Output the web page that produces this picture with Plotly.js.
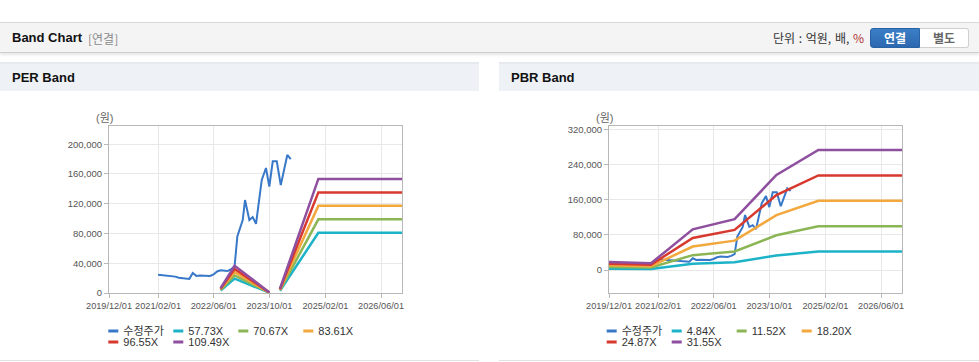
<!DOCTYPE html>
<html><head><meta charset="utf-8">
<script src="https://cdn.plot.ly/plotly-3.0.1.min.js"></script>
<style>
body{margin:0;width:979px;height:362px;background:#fff;overflow:hidden;position:relative;font-family:"Liberation Sans","Noto Sans CJK KR",sans-serif}
.topbar{position:absolute;left:0;top:22px;width:979px;height:29px;background:#f4f4f4;border-top:1px solid #d9d9d9;border-bottom:1px solid #cdcdcd;box-shadow:0 2px 3px rgba(0,0,0,0.10)}
.ttl{position:absolute;left:12px;top:7px;font-size:13px;font-weight:bold;color:#111;line-height:16px}
.sub{position:absolute;left:88px;top:8px;font-size:12px;color:#8a8a8a;line-height:16px;font-family:"Noto Sans CJK KR",sans-serif}
.unit{position:absolute;left:773px;top:7px;font-size:12px;color:#333;line-height:16px;font-family:"Noto Sans CJK KR",sans-serif;word-spacing:1px}
.unit span{color:#b03333}
.btn{position:absolute;top:5px;height:18px;width:48px;font-size:12px;font-weight:bold;text-align:center;line-height:18px;font-family:"Noto Sans CJK KR",sans-serif}
.b1{left:870px;background:linear-gradient(#3b7fc6,#2c68b0);color:#fff;border:1px solid #2a62a6;border-radius:3px 0 0 3px;width:48px}
.b2{left:920px;background:#fff;color:#666;border:1px solid #cfcfcf;border-left:none;border-radius:0 3px 3px 0;width:48px}
.ph{position:absolute;top:62px;height:27px;background:#eef1f6;border-top:2px solid #e6e9ee}
.ph div{position:absolute;left:12px;top:6px;font-size:13px;font-weight:bold;color:#111;line-height:16px}
.chart{position:absolute;top:91px;height:269px}
.bl{position:absolute;top:360px;height:1px;background:#e2e2e2}
</style></head>
<body>
<div class="topbar">
  <div class="ttl">Band Chart</div>
  <div class="sub">[연결]</div>
  <div class="unit">단위 : 억원, 배, <span>%</span></div>
  <div class="btn b1">연결</div>
  <div class="btn b2">별도</div>
</div>
<div class="ph" style="left:0;width:479px"><div>PER Band</div></div>
<div class="ph" style="left:499px;width:480px"><div>PBR Band</div></div>
<div id="per" class="chart" style="left:0;width:479px"></div>
<div id="pbr" class="chart" style="left:499px;width:480px"></div>
<div class="bl" style="left:0;width:479px"></div>
<div class="bl" style="left:499px;width:480px"></div>
<script>
// ---- data ----
const priceName = '수정주가';
const priceDates = ['2021-02-01','2021-03-01','2021-04-01','2021-05-01','2021-06-01','2021-07-01','2021-08-01','2021-09-01','2021-10-01','2021-11-01','2021-12-01','2022-01-01','2022-02-01','2022-03-01','2022-04-01','2022-05-01','2022-06-01','2022-07-01','2022-08-01','2022-09-01','2022-10-01','2022-11-01','2022-12-01','2022-12-25','2023-01-17','2023-02-10','2023-03-02','2023-04-09','2023-05-08','2023-06-06','2023-07-26','2023-09-01','2023-09-30','2023-10-30','2023-12-04','2024-01-08','2024-03-05','2024-04-04'];
const priceValues = [24500,24000,23500,23300,23000,22000,20500,19800,19200,19000,26800,23000,23500,23500,23000,23000,25000,29000,30500,30000,29500,32000,36000,76000,87000,98000,125000,98000,102000,93000,152000,168000,143000,177000,177000,145000,185600,180000];

const perNames = ['57.73X','70.67X','83.61X','96.55X','109.49X'];
const perDates = ['2022-08-01','2022-12-01','2023-10-01','2023-11-15','2024-01-01','2024-12-01','2026-12-01'];
const per5773  = [3464, 19282, 404, null, 3060, 80880, 80880];
const per7067  = [4240, 23604, 495, null, 3746, 99009, 99009];
const per8361  = [5017, 27926, 585, null, 4431, 117138, 117138];
const per9655  = [5793, 32248, 676, null, 5117, 135267, 135267];
const per10949 = [6569, 36570, 766, null, 5803, 153396, 153396];

const pbrNames = ['4.84X','11.52X','18.20X','24.87X','31.55X'];
const pbrDates = ['2019-12-01','2020-12-01','2021-12-01','2022-12-01','2023-12-01','2024-12-01','2026-12-01'];
const pbr484  = [2807, 2323, 14181, 17763, 33154, 41866, 41866];
const pbr1152 = [6682, 5530, 33754, 42278, 78912, 99648, 99648];
const pbr1820 = [10556, 8736, 53326, 66794, 124670, 157430, 157430];
const pbr2487 = [14425, 11938, 72869, 91273, 170360, 215126, 215126];
const pbr3155 = [18299, 15144, 92442, 115789, 216118, 272908, 272908];

const xTickVals = ['2019-12-01','2021-02-01','2022-06-01','2023-10-01','2025-02-01','2026-06-01'];
const xTickText = ['2019/12/01','2021/02/01','2022/06/01','2023/10/01','2025/02/01','2026/06/01'];
const perYTicks = [0,40000,80000,120000,160000,200000];
const pbrYTicks = [0,80000,160000,240000,320000];
const unitLabel = '(원)';

// ---- styles ----
const priceColor = '#3878c8';
const bandColors = ['#1cb3c8','#8cb655','#f2a83c','#d8392f','#8f4f9f'];
const FONT = 'Liberation Sans, Noto Sans CJK KR, sans-serif';
const legDash = '0px,20px,10px,200px';

function build(divId, bandDates, bands, names, yRange, yTicks, plotL, legX, annX){
  const traces = [];
  traces.push({x: priceDates, y: priceValues, type:'scatter', mode:'lines', name: priceName,
    line:{color: priceColor, width:2}, showlegend:false});
  bands.forEach((b,i)=>{
    traces.push({x: bandDates, y: b, type:'scatter', mode:'lines', name: names[i],
      line:{color: bandColors[i], width:2.5}, connectgaps:false, showlegend:false});
  });
  // legend entries (short line keys)
  const legNames = [priceName].concat(names);
  const legColors = [priceColor].concat(bandColors);
  legNames.forEach((n,i)=>{
    traces.push({x:[null], y:[null], type:'scatter', mode:'lines', name:n,
      line:{color: legColors[i], width:3, dash: legDash}, showlegend:true,
      legend: i < 4 ? 'legend' : 'legend2', hoverinfo:'skip'});
    if(i===3 || i===legNames.length-1){
      // spacer entry so the last visible label in each row is not clipped
      traces.push({x:[null], y:[null], type:'scatter', mode:'lines', name:' ',
        line:{color:'rgba(0,0,0,0)', width:0}, showlegend:true,
        legend: i < 4 ? 'legend' : 'legend2', hoverinfo:'skip'});
    }
  });
  const legBase = {orientation:'h', xanchor:'left', yanchor:'top', x: legX,
    font:{family:FONT, size:11, color:'#333'}, entrywidth:20, bgcolor:'rgba(0,0,0,0)',
    itemclick:false, itemdoubleclick:false, traceorder:'normal'};
  const layout = {
    width: (divId==='per'?479:480), height:269,
    margin:{l:plotL, r:77, t:35, b:67, autoexpand:false},
    paper_bgcolor:'#fff', plot_bgcolor:'#fff',
    font:{family:FONT, size:10, color:'#555'},
    xaxis:{type:'date', range:['2019-12-01','2026-12-01'], tickmode:'array',
      tickvals:xTickVals, ticktext:xTickText, tickangle:0, showgrid:true, gridcolor:'#e8e8e8',
      showline:true, linecolor:'#b8b8b8', mirror:true, ticks:'outside', ticklen:4, tickcolor:'#b8b8b8',
      tickfont:{family:FONT, size:9.2, color:'#555'}, zeroline:false, fixedrange:true},
    yaxis:{range:yRange, tickmode:'array', tickvals:yTicks, tickformat:',',
      showgrid:true, gridcolor:'#e8e8e8', showline:true, linecolor:'#b8b8b8', mirror:true,
      ticks:'outside', ticklen:4, tickcolor:'#b8b8b8', zeroline:false,
      tickfont:{family:FONT, size:9.5, color:'#555'}, fixedrange:true},
    legend: Object.assign({}, legBase, {y:-0.140}),
    legend2: Object.assign({}, legBase, {y:-0.206}),
    annotations:[{text:unitLabel, xref:'paper', yref:'paper', x:annX, y:1.05,
      xanchor:'center', yanchor:'middle', showarrow:false, font:{family:FONT, size:11, color:'#666'}}],
    showlegend:true
  };
  Plotly.newPlot(divId, traces, layout, {staticPlot:true, displayModeBar:false});
}

build('per', perDates, [per5773, per7067, per8361, per9655, per10949], perNames,
  [0, 224500], perYTicks, 109, -0.0877, -0.0137);
build('pbr', pbrDates, [pbr484, pbr1152, pbr1820, pbr2487, pbr3155], pbrNames,
  [-52300, 327500], pbrYTicks, 110, -0.0932, -0.0137);
</script>
</body></html>
